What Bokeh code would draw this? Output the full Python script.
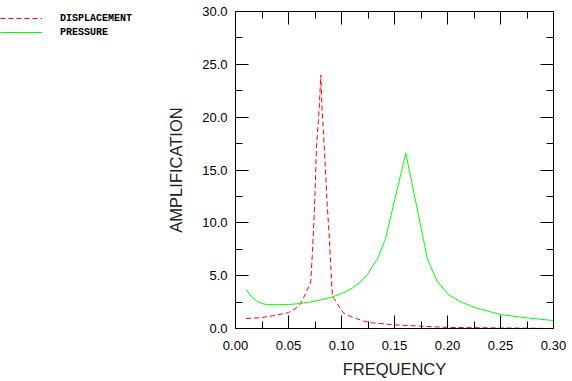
from bokeh.plotting import figure
from bokeh.layouts import row
from bokeh.models import (Range1d, LinearAxis, FixedTicker, NumeralTickFormatter,
                          Legend, LegendItem)
from bokeh.embed import file_html
from bokeh.resources import INLINE

# Displacement (red dashed)
disp_freq = [0.010, 0.020, 0.027, 0.035, 0.045, 0.050, 0.056, 0.061, 0.065, 0.071,
             0.0726, 0.0745, 0.0764, 0.079, 0.0805, 0.0815, 0.0846, 0.0865, 0.0887,
             0.0906, 0.0915, 0.0975, 0.102, 0.1085, 0.121, 0.129, 0.149,
             0.1745, 0.200, 0.275, 0.300]
disp_amp = [0.95, 1.0, 1.07, 1.2, 1.4, 1.5, 1.86, 2.3, 3.06, 4.4,
            7.3, 11.3, 17.2, 20.9, 24.0, 21.1, 15.6, 11.8, 8.2,
            4.5, 3.1, 2.1, 1.45, 1.14, 0.69, 0.54, 0.35,
            0.22, 0.10, 0.03, 0.0]

# Pressure (green solid)
pres_freq = [0.010, 0.015, 0.020, 0.025, 0.030, 0.040, 0.050, 0.060, 0.070, 0.080,
             0.090, 0.100, 0.110, 0.118, 0.125, 0.1305, 0.134, 0.1384, 0.1415, 0.1607,
             0.181, 0.190, 0.201, 0.211, 0.225, 0.250, 0.275, 0.300]
pres_amp = [3.7, 3.0, 2.6, 2.35, 2.27, 2.25, 2.27, 2.35, 2.5, 2.7,
            2.95, 3.3, 3.8, 4.4, 5.2, 6.1, 6.6, 7.7, 8.5, 16.6,
            6.6, 4.5, 3.2, 2.6, 2.0, 1.32, 1.0, 0.75]

x_ticks = [0.0, 0.05, 0.10, 0.15, 0.20, 0.25, 0.30]
x_minor = [0.025, 0.075, 0.125, 0.175, 0.225, 0.275]
y_ticks = [0, 5, 10, 15, 20, 25, 30]
y_minor = [2.5, 7.5, 12.5, 17.5, 22.5, 27.5]

x_label = "FREQUENCY"
y_label = "AMPLIFICATION"
series_labels = ["DISPLACEMENT", "PRESSURE"]

DISP_STYLE = dict(line_color="#ff0000", line_width=1, line_dash="5 3")
PRES_STYLE = dict(line_color="#00ff00", line_width=1)

# ---- main chart ----
p = figure(width=412, height=381, output_backend="svg", toolbar_location=None,
           x_range=Range1d(0, 0.3), y_range=Range1d(0, 30),
           x_axis_type=None, y_axis_type=None,
           min_border_left=75, min_border_right=19, min_border_top=11, min_border_bottom=53)
p.outline_line_color = None
p.xgrid.visible = False
p.ygrid.visible = False
p.background_fill_color = "white"
p.border_fill_color = "white"

def style_axis(ax, labels=True):
    ax.axis_line_color = "black"
    ax.axis_line_width = 1
    ax.major_tick_in = 13
    ax.major_tick_out = 0
    ax.minor_tick_in = 7
    ax.minor_tick_out = 0
    ax.major_tick_line_color = "black"
    ax.minor_tick_line_color = "black"
    ax.major_label_text_font = "Liberation Sans"
    ax.major_label_text_font_size = "13px"
    ax.major_label_text_color = "black" if labels else None
    ax.axis_label_text_font = "Liberation Sans"
    ax.axis_label_text_font_size = "16.5px"
    ax.axis_label_text_font_style = "normal"
    ax.axis_label_text_color = "#222222"
    if not labels:
        ax.major_label_standoff = 0

xb = LinearAxis(ticker=FixedTicker(ticks=x_ticks, minor_ticks=x_minor),
                formatter=NumeralTickFormatter(format="0.00"), axis_label=x_label)
style_axis(xb)
xb.major_label_standoff = 12
xb.axis_label_standoff = 7
p.add_layout(xb, "below")

yl = LinearAxis(ticker=FixedTicker(ticks=y_ticks, minor_ticks=y_minor),
                formatter=NumeralTickFormatter(format="0.0"), axis_label=y_label)
style_axis(yl)
yl.major_label_standoff = 8
yl.axis_label_standoff = 14
p.add_layout(yl, "left")

xa = LinearAxis(ticker=FixedTicker(ticks=x_ticks, minor_ticks=x_minor))
style_axis(xa, labels=False)
p.add_layout(xa, "above")

yr = LinearAxis(ticker=FixedTicker(ticks=y_ticks, minor_ticks=y_minor))
style_axis(yr, labels=False)
p.add_layout(yr, "right")

p.line(disp_freq, disp_amp, **DISP_STYLE)
p.line(pres_freq, pres_amp, **PRES_STYLE)

# ---- legend panel on the left (its lines fall outside its own view) ----
lf = figure(width=160, height=381, output_backend="svg", toolbar_location=None,
            x_axis_type=None, y_axis_type=None,
            min_border_left=0, min_border_right=0, min_border_top=0, min_border_bottom=0,
            x_range=Range1d(10, 11), y_range=Range1d(100, 101))
lf.outline_line_color = None
lf.xgrid.visible = False
lf.ygrid.visible = False
lf.background_fill_color = "white"
lf.border_fill_color = "white"
lr1 = lf.line(disp_freq, disp_amp, **DISP_STYLE)
lr2 = lf.line(pres_freq, pres_amp, **PRES_STYLE)

legend = Legend(items=[LegendItem(label=series_labels[0], renderers=[lr1]),
                       LegendItem(label=series_labels[1], renderers=[lr2])],
                location="top_left")
legend.border_line_color = None
legend.background_fill_alpha = 0
legend.padding = 0
legend.margin = 0
legend.spacing = 0
legend.glyph_width = 42
legend.glyph_height = 14
legend.label_height = 14
legend.label_standoff = 18
legend.label_text_font = "Liberation Mono"
legend.label_text_font_size = "10px"
legend.label_text_font_style = "bold"
legend.label_text_color = "black"
lf.add_layout(legend, "center")

layout = row(lf, p, spacing=0)
open("out.html", "w").write(file_html(layout, INLINE))
